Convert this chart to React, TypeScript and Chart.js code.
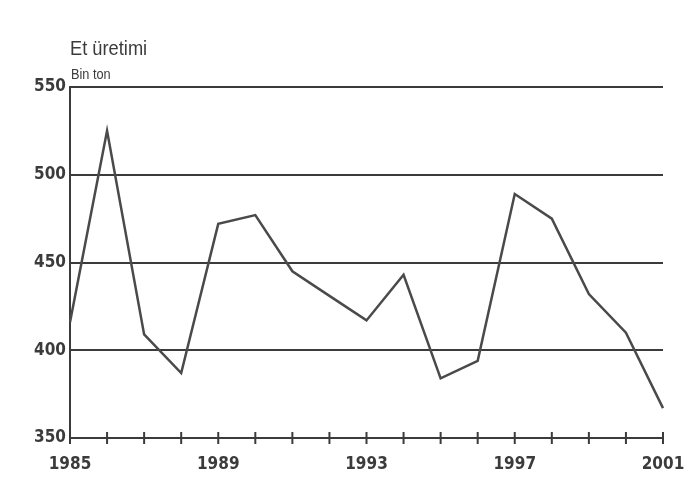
import React, { useEffect, useRef } from "react";
import { Chart, registerables } from "chart.js";

Chart.register(...registerables);

const years: string[] = ["1985","1986","1987","1988","1989","1990","1991","1992","1993","1994","1995","1996","1997","1998","1999","2000","2001"];
const production: number[] = [416, 525, 409, 387, 472, 477, 445, 431, 417, 443, 384, 394, 489, 475, 432, 410, 367];
const yTicks: number[] = [350, 400, 450, 500, 550];
const titleText = "Et üretimi";
const unitText = "Bin ton";

const FONT = "'DejaVu Sans Condensed', 'Liberation Sans Narrow', 'Arial Narrow', sans-serif";
const TFONT = "'Liberation Sans', Arial, sans-serif";
const INK = "#3b3b3b";

export default function App() {
  const ref = useRef<HTMLCanvasElement | null>(null);
  useEffect(() => {
    document.body.style.margin = "0";
    document.body.style.background = "#ffffff";
    const canvas = ref.current!;
    const textPlugin = {
      id: "texts",
      afterDraw(chart: any) {
        const ctx = chart.ctx;
        const area = chart.chartArea;
        const xs = chart.scales.x;
        ctx.save();
        ctx.fillStyle = INK;
        ctx.textAlign = "left";
        ctx.textBaseline = "alphabetic";
        ctx.save();
        ctx.translate(area.left, 55);
        ctx.scale(0.87, 1);
        ctx.font = `21px ${TFONT}`;
        ctx.fillText(titleText, 0, 0);
        ctx.restore();
        ctx.save();
        ctx.translate(area.left + 1, 79);
        ctx.scale(0.85, 1);
        ctx.font = `15px ${TFONT}`;
        ctx.fillText(unitText, 0, 0);
        ctx.restore();
        // tick marks crossing the x axis
        ctx.strokeStyle = INK;
        ctx.lineWidth = 2;
        for (let i = 0; i < years.length; i++) {
          const x = xs.getPixelForValue(i);
          ctx.beginPath();
          ctx.moveTo(x, area.bottom - 6);
          ctx.lineTo(x, area.bottom + 6);
          ctx.stroke();
        }
        ctx.restore();
      },
    };
    const chart = new Chart(canvas, {
      type: "line",
      data: {
        labels: years,
        datasets: [
          {
            data: production,
            borderColor: "#4a4a4a",
            borderWidth: 2.5,
            pointRadius: 0,
            tension: 0,
            fill: false,
          },
        ],
      },
      options: {
        animation: false,
        responsive: false,
        maintainAspectRatio: false,
        layout: { padding: { left: 0, top: 87, right: 31, bottom: 0 } },
        plugins: { legend: { display: false }, tooltip: { enabled: false }, title: { display: false } },
        scales: {
          x: {
            type: "category",
            offset: false,
            grid: { display: false, drawTicks: false },
            border: { display: true, color: INK, width: 2 },
            ticks: {
              autoSkip: false,
              maxRotation: 0,
              padding: 16,
              color: INK,
              font: { family: FONT, size: 17, weight: "bold" },
              callback: (_v: any, i: number) => ((i % 4 === 0) ? years[i] : ""),
            },
            afterFit: (s: any) => { s.height = 61; s.paddingLeft = 0; s.paddingRight = 0; },
          },
          y: {
            min: 350,
            max: 550,
            afterBuildTicks: (s: any) => { s.ticks = yTicks.map((v) => ({ value: v })); },
            grid: {
              drawTicks: false,
              color: (c: any) => (c.tick && c.tick.value === 350 ? "rgba(0,0,0,0)" : INK),
              lineWidth: 2,
            },
            border: { display: true, color: INK, width: 2 },
            ticks: {
              padding: 4,
              color: INK,
              font: { family: FONT, size: 17, weight: "bold" },
            },
            afterFit: (s: any) => { s.width = 70; s.paddingTop = 0; s.paddingBottom = 0; },
          },
        },
      },
      plugins: [textPlugin],
    });
    return () => chart.destroy();
  }, []);
  return (
    <div style={{ position: "absolute", left: 0, top: 0, width: 694, height: 499, background: "#fff" }}>
      <canvas ref={ref} width={694} height={499} style={{ width: 694, height: 499 }} />
    </div>
  );
}
